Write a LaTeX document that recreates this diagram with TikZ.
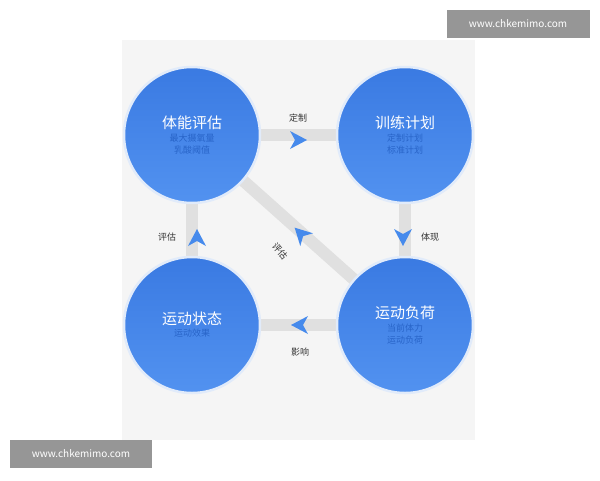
\documentclass[tikz,border=0pt]{standalone}
\usepackage{fontspec}
\newfontfamily\cjk{Noto Sans CJK SC}
\definecolor{ctop}{RGB}{58,122,226}
\definecolor{cbot}{RGB}{82,146,240}
\definecolor{cbar}{RGB}{224,224,224}
\definecolor{chead}{RGB}{70,138,236}
\definecolor{cpanel}{RGB}{245,245,245}
\definecolor{csub}{RGB}{40,100,200}
\definecolor{cedge}{RGB}{225,235,250}
\definecolor{cwm}{RGB}{150,150,150}
\newcommand\bigt[1]{{\fontsize{15}{18}\selectfont #1}}
\newcommand\smt[1]{{\fontsize{9}{11}\selectfont\color{csub}#1}}
\begin{document}
\begin{tikzpicture}[x=1pt,y=-1pt,font=\cjk,
  circ/.style={circle,minimum size=136pt,inner sep=0pt,draw=cedge,line width=2.5pt,top color=ctop,bottom color=cbot,align=center,text=white},
  bar/.style={line width=12pt,draw=cbar},
  lab/.style={font=\cjk\fontsize{9}{11}\selectfont,text=black!80},
  head/.style={fill=chead}]
\useasboundingbox (0,0) rectangle (600,480);
\fill[white] (0,0) rectangle (600,480);
\fill[cpanel] (122,40) rectangle (475,440);
\coordinate (pa) at (298,140);
\coordinate (pb) at (403,237);
\coordinate (pc) at (300,325);
\coordinate (pd) at (197,238);
\coordinate (pe) at (301,234);
\path (192,135) coordinate (tl) (405,135) coordinate (tr) (192,325) coordinate (bl) (405,325) coordinate (br);
\draw[bar] (tl) -- (tr); \draw[bar] (tr) -- (br); \draw[bar] (br) -- (bl); \draw[bar] (bl) -- (tl); \draw[bar] (br) -- (tl);
\newcommand\myhead[2]{\fill[head,shift={(#1)},rotate=#2] (9,0) -- (-8,-9) -- (-3,0) -- (-8,9) -- cycle;}
\myhead{pa}{0}\myhead{pb}{-90}\myhead{pc}{180}\myhead{pd}{90}\myhead{pe}{135}
\node[circ] (n1) at (tl) {\bigt{体能评估}\\[1pt]\smt{最大摄氧量}\\\smt{乳酸阈值}};
\node[circ] (n2) at (tr) {\bigt{训练计划}\\[1pt]\smt{定制计划}\\\smt{标准计划}};
\node[circ] (n3) at (bl) {\bigt{运动状态}\\[0pt]\smt{运动效果}};
\node[circ] (n4) at (br) {\bigt{运动负荷}\\[1pt]\smt{当前体力}\\\smt{运动负荷}};
\node[lab] (l1) at (298,118) {定制};
\node[lab] (l2) at (430,237) {体现};
\node[lab] (l3) at (300,352) {影响};
\node[lab] (l4) at (167,237) {评估};
\node[lab,rotate=-50] (l5) at (280,251) {评估};
\node[fill=cwm,text=white,minimum width=143pt,minimum height=28pt,font=\cjk\fontsize{10}{12}\selectfont] (w1) at (518,24) {www.chkemimo.com};
\node[fill=cwm,text=white,minimum width=142pt,minimum height=28pt,font=\cjk\fontsize{10}{12}\selectfont] (w2) at (81,454) {www.chkemimo.com};
\end{tikzpicture}
\end{document}
